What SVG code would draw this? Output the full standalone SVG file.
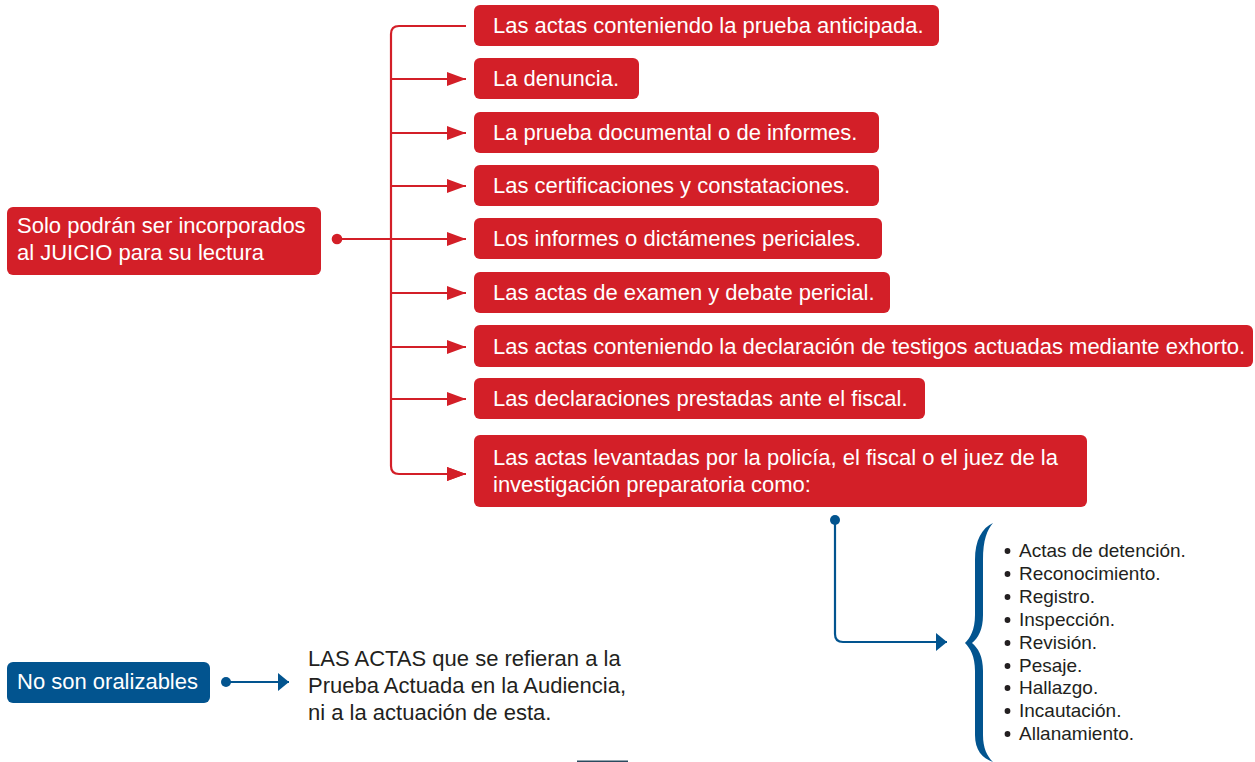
<svg xmlns="http://www.w3.org/2000/svg" width="1255" height="762" viewBox="0 0 1255 762">
<defs>
<style>
.rbox{fill:#D31F28;}
.bbox{fill:#02548F;}
.wt{font-family:"Liberation Sans",Arial,sans-serif;font-size:22px;fill:#ffffff;}
.dt{font-family:"Liberation Sans",Arial,sans-serif;font-size:22px;fill:#231F20;}
.lt{font-family:"Liberation Sans",Arial,sans-serif;font-size:19px;fill:#231F20;}
.bu{fill:#231F20;}
.rl{fill:none;stroke:#D31F28;stroke-width:2.2;}
.bl{fill:none;stroke:#02548F;stroke-width:2.2;}
</style>
<marker id="ra" viewBox="0 0 19 14" refX="19" refY="7" markerWidth="19" markerHeight="14" markerUnits="userSpaceOnUse" orient="auto">
<path d="M0,0 L19,7 L0,14 Z" fill="#D31F28"/>
</marker>
<marker id="ba" viewBox="0 0 11 18" refX="11" refY="9" markerWidth="11" markerHeight="18" markerUnits="userSpaceOnUse" orient="auto">
<path d="M0,0 L11,9 L0,18 Z" fill="#02548F"/>
</marker>
</defs>
<rect width="1255" height="762" fill="#ffffff"/>

<g id="connectors">
<circle cx="337" cy="239" r="5.3" fill="#D31F28"/>
<path class="rl" d="M337,239 H466" marker-end="url(#ra)"/>
<path class="rl" d="M466,26 H399 Q391,26 391,34 V466 Q391,474 399,474 H466" marker-end="url(#ra)"/>
<path class="rl" d="M391,79 H466" marker-end="url(#ra)"/>
<path class="rl" d="M391,133 H466" marker-end="url(#ra)"/>
<path class="rl" d="M391,186 H466" marker-end="url(#ra)"/>
<path class="rl" d="M391,293 H466" marker-end="url(#ra)"/>
<path class="rl" d="M391,347 H466" marker-end="url(#ra)"/>
<path class="rl" d="M391,399 H466" marker-end="url(#ra)"/>
<path class="rl" d="M399,474 H466" marker-end="url(#ra)"/>
<circle cx="835" cy="520" r="5" fill="#02548F"/>
<path class="bl" d="M835,520 V634 Q835,642 843,642 H947" marker-end="url(#ba)"/>
<circle cx="226" cy="682" r="5" fill="#02548F"/>
<path class="bl" d="M226,682 H289" marker-end="url(#ba)"/>
</g>

<g id="n-main">
<rect class="rbox" x="7" y="207" width="314" height="68" rx="6"/>
<text class="wt" x="17" y="233">Solo podrán ser incorporados</text>
<text class="wt" x="17" y="260">al JUICIO para su lectura</text>
</g>
<g id="n1"><rect class="rbox" x="474" y="5" width="465" height="41" rx="6"/><text class="wt" x="493" y="33">Las actas conteniendo la prueba anticipada.</text></g>
<g id="n2"><rect class="rbox" x="474" y="58" width="165" height="41" rx="6"/><text class="wt" x="493" y="86">La denuncia.</text></g>
<g id="n3"><rect class="rbox" x="474" y="112" width="405" height="41" rx="6"/><text class="wt" x="493" y="140">La prueba documental o de informes.</text></g>
<g id="n4"><rect class="rbox" x="474" y="165" width="405" height="41" rx="6"/><text class="wt" x="493" y="193">Las certificaciones y constataciones.</text></g>
<g id="n5"><rect class="rbox" x="474" y="218" width="408" height="41" rx="6"/><text class="wt" x="493" y="246">Los informes o dictámenes periciales.</text></g>
<g id="n6"><rect class="rbox" x="474" y="272" width="416" height="41" rx="6"/><text class="wt" x="493" y="300">Las actas de examen y debate pericial.</text></g>
<g id="n7"><rect class="rbox" x="474" y="325" width="779" height="42" rx="6"/><text class="wt" x="493" y="354">Las actas conteniendo la declaración de testigos actuadas mediante exhorto.</text></g>
<g id="n8"><rect class="rbox" x="474" y="378" width="451" height="41" rx="6"/><text class="wt" x="493" y="406">Las declaraciones prestadas ante el fiscal.</text></g>
<g id="n9"><rect class="rbox" x="474" y="435" width="613" height="72" rx="6"/>
<text class="wt" x="493" y="465">Las actas levantadas por la policía, el fiscal o el juez de la</text>
<text class="wt" x="493" y="492">investigación preparatoria como:</text></g>

<g id="n-list">
<path fill="#02548F" d="M993,523 C982,528 975,540 975,560 L975,615 C975,630 970,638 965,643 C970,648 975,656 975,671 L975,735 C975,750 982,758 993,762 C987,756 983,748 983,735 L983,671 C983,656 978,648 972,643 C978,638 983,630 983,615 L983,560 C983,540 987,530 993,523 Z"/>
<g class="bu">
<circle cx="1007.5" cy="551" r="2.9"/><circle cx="1007.5" cy="574" r="2.9"/><circle cx="1007.5" cy="597" r="2.9"/>
<circle cx="1007.5" cy="620" r="2.9"/><circle cx="1007.5" cy="643" r="2.9"/><circle cx="1007.5" cy="666" r="2.9"/>
<circle cx="1007.5" cy="688" r="2.9"/><circle cx="1007.5" cy="711" r="2.9"/><circle cx="1007.5" cy="734" r="2.9"/>
</g>
<g class="lt">
<text x="1019" y="557">Actas de detención.</text>
<text x="1019" y="580">Reconocimiento.</text>
<text x="1019" y="603">Registro.</text>
<text x="1019" y="626">Inspección.</text>
<text x="1019" y="649">Revisión.</text>
<text x="1019" y="672">Pesaje.</text>
<text x="1019" y="694">Hallazgo.</text>
<text x="1019" y="717">Incautación.</text>
<text x="1019" y="740">Allanamiento.</text>
</g>
</g>

<g id="n-noral">
<rect class="bbox" x="7" y="662" width="203" height="41" rx="6"/>
<text class="wt" x="17" y="689">No son oralizables</text>
</g>
<g id="n-actas">
<text class="dt" x="308" y="666">LAS ACTAS que se refieran a la</text>
<text class="dt" x="308" y="693">Prueba Actuada en la Audiencia,</text>
<text class="dt" x="308" y="720">ni a la actuación de esta.</text>
</g>
<line x1="577" y1="761.2" x2="628" y2="761.2" stroke="#2B4A5E" stroke-width="1.6"/>
</svg>
